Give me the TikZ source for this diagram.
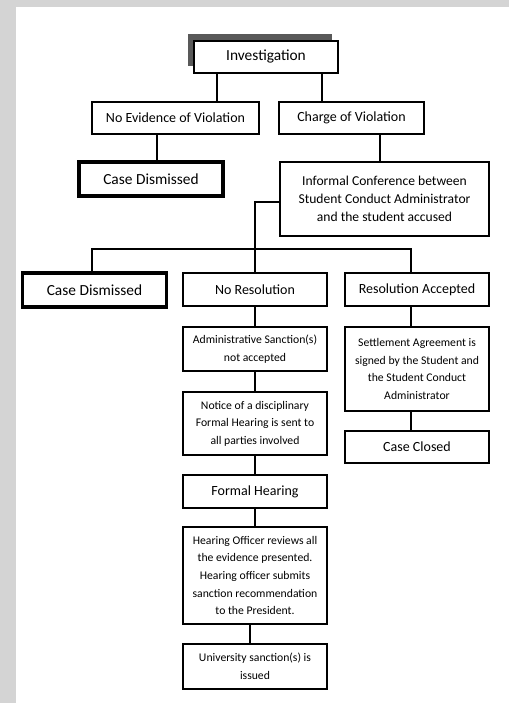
\documentclass[tikz,border=0pt]{standalone}
\usepackage{fontspec}
\setmainfont{Carlito}
\usetikzlibrary{shadows}

\begin{document}
\begin{tikzpicture}[x=1pt,y=-1pt,
  box/.style={draw, line width=1.6pt, fill=white, minimum width=144pt, minimum height=32pt,
    inner sep=2pt, align=center, font=\fontsize{14}{16}\selectfont},
  small/.style={font=\fontsize{11.7}{17.6}\selectfont},
  endbox/.style={box, line width=3.2pt, font=\fontsize{15.4}{17}\selectfont},
  link/.style={line width=1.3pt}]
  \useasboundingbox (0,0) rectangle (509,703);
  \fill[black!17] (0,0) rectangle (509,703);
  \fill[white] (16,7) rectangle (509,703);

  \node[box, font=\fontsize{15.4}{17}\selectfont,
    drop shadow={shadow xshift=-6pt, shadow yshift=7pt, fill=black!65, opacity=1}]
    (inv) at (266,57) {Investigation};
  \node[box, minimum width=167pt] (noev) at (175.5,118) {No Evidence of Violation};
  \node[box, minimum width=145pt] (charge) at (351.5,118) {Charge of Violation};
  \node[endbox, minimum height=34pt] (dis1) at (151,179) {Case Dismissed};
  \node[box, minimum width=209pt, minimum height=74pt, font=\fontsize{13.6}{17.7}\selectfont]
    (inf) at (384.5,199) {Informal Conference between\\Student Conduct Administrator\\and the student accused};

  \node[endbox, minimum height=34pt] (dis2) at (94.5,290) {Case Dismissed};
  \node[box, minimum height=33pt] (nores) at (255,289.5) {No Resolution};
  \node[box, minimum height=33pt] (resacc) at (417,289.5) {Resolution Accepted};

  \node[box, small, minimum height=44pt] (admin) at (255,349) {Administrative Sanction(s)\\not accepted};
  \node[box, small, minimum height=63pt] (notice) at (255,423.5) {Notice of a disciplinary\\Formal Hearing is sent to\\all parties involved};
  \node[box, minimum height=33pt] (formal) at (255,491.5) {Formal Hearing};
  \node[box, small, minimum height=97pt] (officer) at (255,575.5) {Hearing Officer reviews all\\the evidence presented.\\Hearing officer submits\\sanction recommendation\\to the President.};
  \node[box, small, minimum height=45pt] (univ) at (255,666.5) {University sanction(s) is\\issued};

  \node[box, small, minimum height=84pt] (settle) at (417,369) {Settlement Agreement is\\signed by the Student and\\the Student Conduct\\Administrator};
  \node[box, minimum height=32pt] (closed) at (417,447) {Case Closed};

  \coordinate (bar) at (255,249);

  \draw[link] ([xshift=-49pt]inv.south) -- ([xshift=-49pt]inv.south |- noev.north);
  \draw[link] ([xshift=56pt]inv.south) -- ([xshift=56pt]inv.south |- charge.north);
  \draw[link] ([xshift=-18.5pt]noev.south) -- ([xshift=-18.5pt]noev.south |- dis1.north);
  \draw[link] ([xshift=28.5pt]charge.south) -- ([xshift=28.5pt]charge.south |- inf.north);

  \draw[link] ([yshift=-3pt]inf.west) -| (bar) -- (nores.north);
  \draw[link] ([xshift=-2.5pt]dis2.north) |- (bar) -| ([xshift=-6pt]resacc.north);

  \draw[link] (nores) -- (admin);
  \draw[link] (admin) -- (notice);
  \draw[link] (notice) -- (formal);
  \draw[link] (formal) -- (officer);
  \draw[link] ([xshift=-5pt]officer.south) -- ([xshift=-5pt]officer.south |- univ.north);

  \draw[link] ([xshift=-6pt]resacc.south) -- ([xshift=-6pt]resacc.south |- settle.north);
  \draw[link] ([xshift=-6pt]settle.south) -- ([xshift=-6pt]settle.south |- closed.north);
\end{tikzpicture}
\end{document}
